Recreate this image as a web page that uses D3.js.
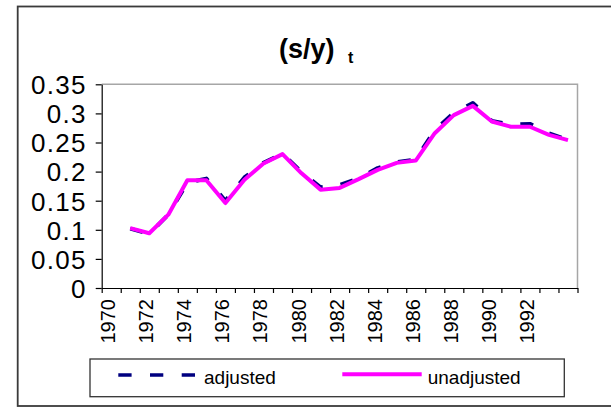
<!DOCTYPE html>
<html>
<head>
<meta charset="utf-8">
<script src="https://cdn.jsdelivr.net/npm/d3@7"></script>
<style>
  html, body { margin: 0; padding: 0; background: #fff; }
  svg { display: block; font-family: "Liberation Sans", Arial, sans-serif; }
</style>
</head>
<body>
<svg id="chart" width="611" height="407"></svg>
<script>
// ---- data ----
const years = [1970, 1971, 1972, 1973, 1974, 1975, 1976, 1977, 1978, 1979, 1980, 1981, 1982,
               1983, 1984, 1985, 1986, 1987, 1988, 1989, 1990, 1991, 1992, 1993, 1994];
const adjusted = [null, 0.102, 0.093, 0.126, 0.181, 0.188, 0.150, 0.190, 0.215, 0.231, 0.199, 0.173, 0.177,
                  0.188, 0.206, 0.216, 0.221, 0.271, 0.301, 0.318, 0.287, 0.281, 0.282, 0.266, 0.254];
const unadjusted = [null, 0.103, 0.094, 0.126, 0.185, 0.185, 0.146, 0.186, 0.214, 0.230, 0.197, 0.169, 0.172,
                    0.187, 0.203, 0.215, 0.219, 0.266, 0.297, 0.313, 0.286, 0.277, 0.277, 0.263, 0.254];
const xTickLabels = [1970, 1972, 1974, 1976, 1978, 1980, 1982, 1984, 1986, 1988, 1990, 1992];
const yTicks = [0, 0.05, 0.1, 0.15, 0.2, 0.25, 0.3, 0.35];
const seriesNames = ["adjusted", "unadjusted"];

// ---- layout ----
const svg = d3.select("#chart");
const L = 101.7, R = 577.5, T = 84.3, B = 288;
const FONT = "\"Liberation Sans\", Arial, sans-serif";

const x = d3.scaleBand().domain(years).range([L, R]).padding(0);
const xEdge = d3.scaleLinear().domain([0, years.length]).range([L, R]);
const y = d3.scaleLinear().domain([0, 0.35]).range([B, T]);

// outer chart border
svg.append("rect")
  .attr("x", 17.7).attr("y", 6.5)
  .attr("width", 640).attr("height", 399.5)
  .attr("fill", "#fff").attr("stroke", "#3a3a3a").attr("stroke-width", 1.8);

// plot area frame (top & right)
svg.append("path")
  .attr("d", `M${L},${T}H${R}V${B}`)
  .attr("fill", "none").attr("stroke", "#a6a6a6").attr("stroke-width", 1.5);

// title
const title = svg.append("text")
  .attr("x", 279).attr("y", 58)
  .attr("font-weight", "bold").attr("font-size", 27).attr("fill", "#000");
title.append("tspan").text("(s/y)");
title.append("tspan").attr("x", 348).attr("y", 63).attr("font-size", 16).text("t");

// y axis
const yAxis = svg.append("g")
  .attr("transform", `translate(${L},0)`)
  .call(d3.axisLeft(y).tickValues(yTicks).tickSize(6).tickSizeOuter(0).tickPadding(9)
    .tickFormat(d => String(+d.toFixed(2))));
yAxis.selectAll("path, line").attr("stroke", "#000").attr("stroke-width", 1.2);
yAxis.selectAll("text").attr("font-size", 26).attr("font-family", FONT)
  .attr("letter-spacing", "1.3px")
  .attr("fill", "#000").attr("dy", "0.36em");

// x axis ticks at category boundaries
const xTicksAxis = svg.append("g")
  .attr("transform", `translate(0,${B})`)
  .call(d3.axisBottom(xEdge).tickValues(d3.range(0, years.length + 1)).tickSize(5).tickSizeOuter(0)
    .tickFormat(""));
xTicksAxis.selectAll("path, line").attr("stroke", "#000").attr("stroke-width", 1.2);

// x axis labels at category centres (rotated)
const xLabelAxis = svg.append("g")
  .attr("transform", `translate(0,${B})`)
  .call(d3.axisBottom(x).tickValues(xTickLabels).tickSize(0).tickSizeOuter(0));
xLabelAxis.select(".domain").remove();
xLabelAxis.selectAll("text")
  .attr("transform", "rotate(-90)")
  .attr("text-anchor", "end")
  .attr("x", -11).attr("y", -3).attr("dy", "0.35em")
  .attr("font-size", 20).attr("font-family", FONT)
  .attr("fill", "#000");

// lines
const cx = i => x(years[i]) + x.bandwidth() / 2;
const line = d3.line()
  .defined(d => d.v != null)
  .x(d => cx(d.i))
  .y(d => y(d.v));

svg.append("path")
  .datum(adjusted.map((v, i) => ({ v, i })))
  .attr("d", line)
  .attr("fill", "none").attr("stroke", "#000080").attr("stroke-width", 4)
  .attr("stroke-dasharray", "13,18").attr("stroke-linejoin", "round");

svg.append("path")
  .datum(unadjusted.map((v, i) => ({ v, i })))
  .attr("d", line)
  .attr("fill", "none").attr("stroke", "#ff00ff").attr("stroke-width", 4)
  .attr("stroke-linejoin", "round");

// legend
const lg = svg.append("g");
lg.append("rect")
  .attr("x", 90).attr("y", 359).attr("width", 474.3).attr("height", 37.7)
  .attr("fill", "#fff").attr("stroke", "#333").attr("stroke-width", 1.3);
lg.append("line")
  .attr("x1", 118.3).attr("x2", 195).attr("y1", 375).attr("y2", 375)
  .attr("stroke", "#000080").attr("stroke-width", 3.5).attr("stroke-dasharray", "13.3,18.4");
lg.append("text").attr("x", 204).attr("y", 384).attr("font-size", 19).attr("fill", "#000")
  .text(seriesNames[0]);
lg.append("line")
  .attr("x1", 342.3).attr("x2", 421.7).attr("y1", 374.3).attr("y2", 374.3)
  .attr("stroke", "#ff00ff").attr("stroke-width", 4);
lg.append("text").attr("x", 427.7).attr("y", 384).attr("font-size", 19).attr("fill", "#000")
  .text(seriesNames[1]);
</script>
</body>
</html>
